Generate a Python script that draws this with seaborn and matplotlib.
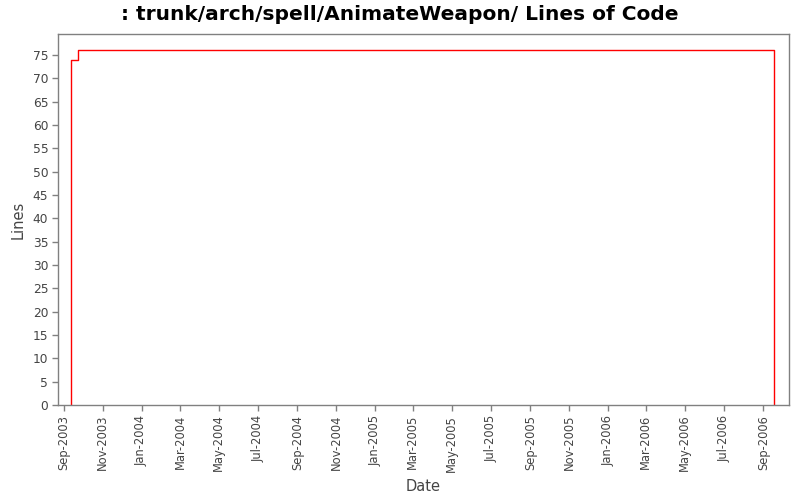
import matplotlib
matplotlib.use("Agg")
import matplotlib.pyplot as plt
import matplotlib.dates as mdates
import seaborn as sns
import pandas as pd

# Data
dates = ["2003-09-13", "2003-09-13", "2003-09-24", "2006-09-18", "2006-09-18"]
lines_of_code = [0, 74, 76, 76, 0]

title = ": trunk/arch/spell/AnimateWeapon/ Lines of Code"
x_label = "Date"
y_label = "Lines"

df = pd.DataFrame({"date": pd.to_datetime(dates), "loc": lines_of_code})

sns.set_theme(style="white")
plt.rcParams["font.family"] = ["DejaVu Sans"]

fig = plt.figure(figsize=(8, 5), dpi=100)
ax = fig.add_axes([0.0725, 0.19, 0.9135, 0.742])

sns.lineplot(data=df, x="date", y="loc", ax=ax, estimator=None, sort=False,
             color="#ff0000", linewidth=1.0, drawstyle="steps-post")

ax.set_xlim(pd.Timestamp("2003-08-23"), pd.Timestamp("2006-10-11"))
ax.set_ylim(0, 79.5)
ax.set_yticks(range(0, 80, 5))

ax.xaxis.set_major_locator(mdates.MonthLocator(bymonth=[1, 3, 5, 7, 9, 11]))
ax.xaxis.set_major_formatter(mdates.DateFormatter("%b-%Y"))
plt.setp(ax.get_xticklabels(), rotation=90)

for s in ax.spines.values():
    s.set_color("#808080")
    s.set_linewidth(1.0)

ax.tick_params(axis="x", which="major", direction="out", length=4, width=1,
               color="#808080", labelsize=8.3, labelcolor="#444444", pad=3,
               bottom=True)
ax.tick_params(axis="y", which="major", direction="out", length=4, width=1,
               color="#808080", labelsize=8.8, labelcolor="#444444", pad=3,
               left=True)

ax.set_xlabel(x_label, fontsize=10.5, color="#444444", labelpad=5)
ax.set_ylabel(y_label, fontsize=10.5, color="#444444", labelpad=5)
ax.grid(False)

fig.suptitle(title, fontsize=14.5, fontweight="bold", x=0.5, y=0.99, color="black")

fig.savefig("out.png", dpi=100, facecolor="white")
